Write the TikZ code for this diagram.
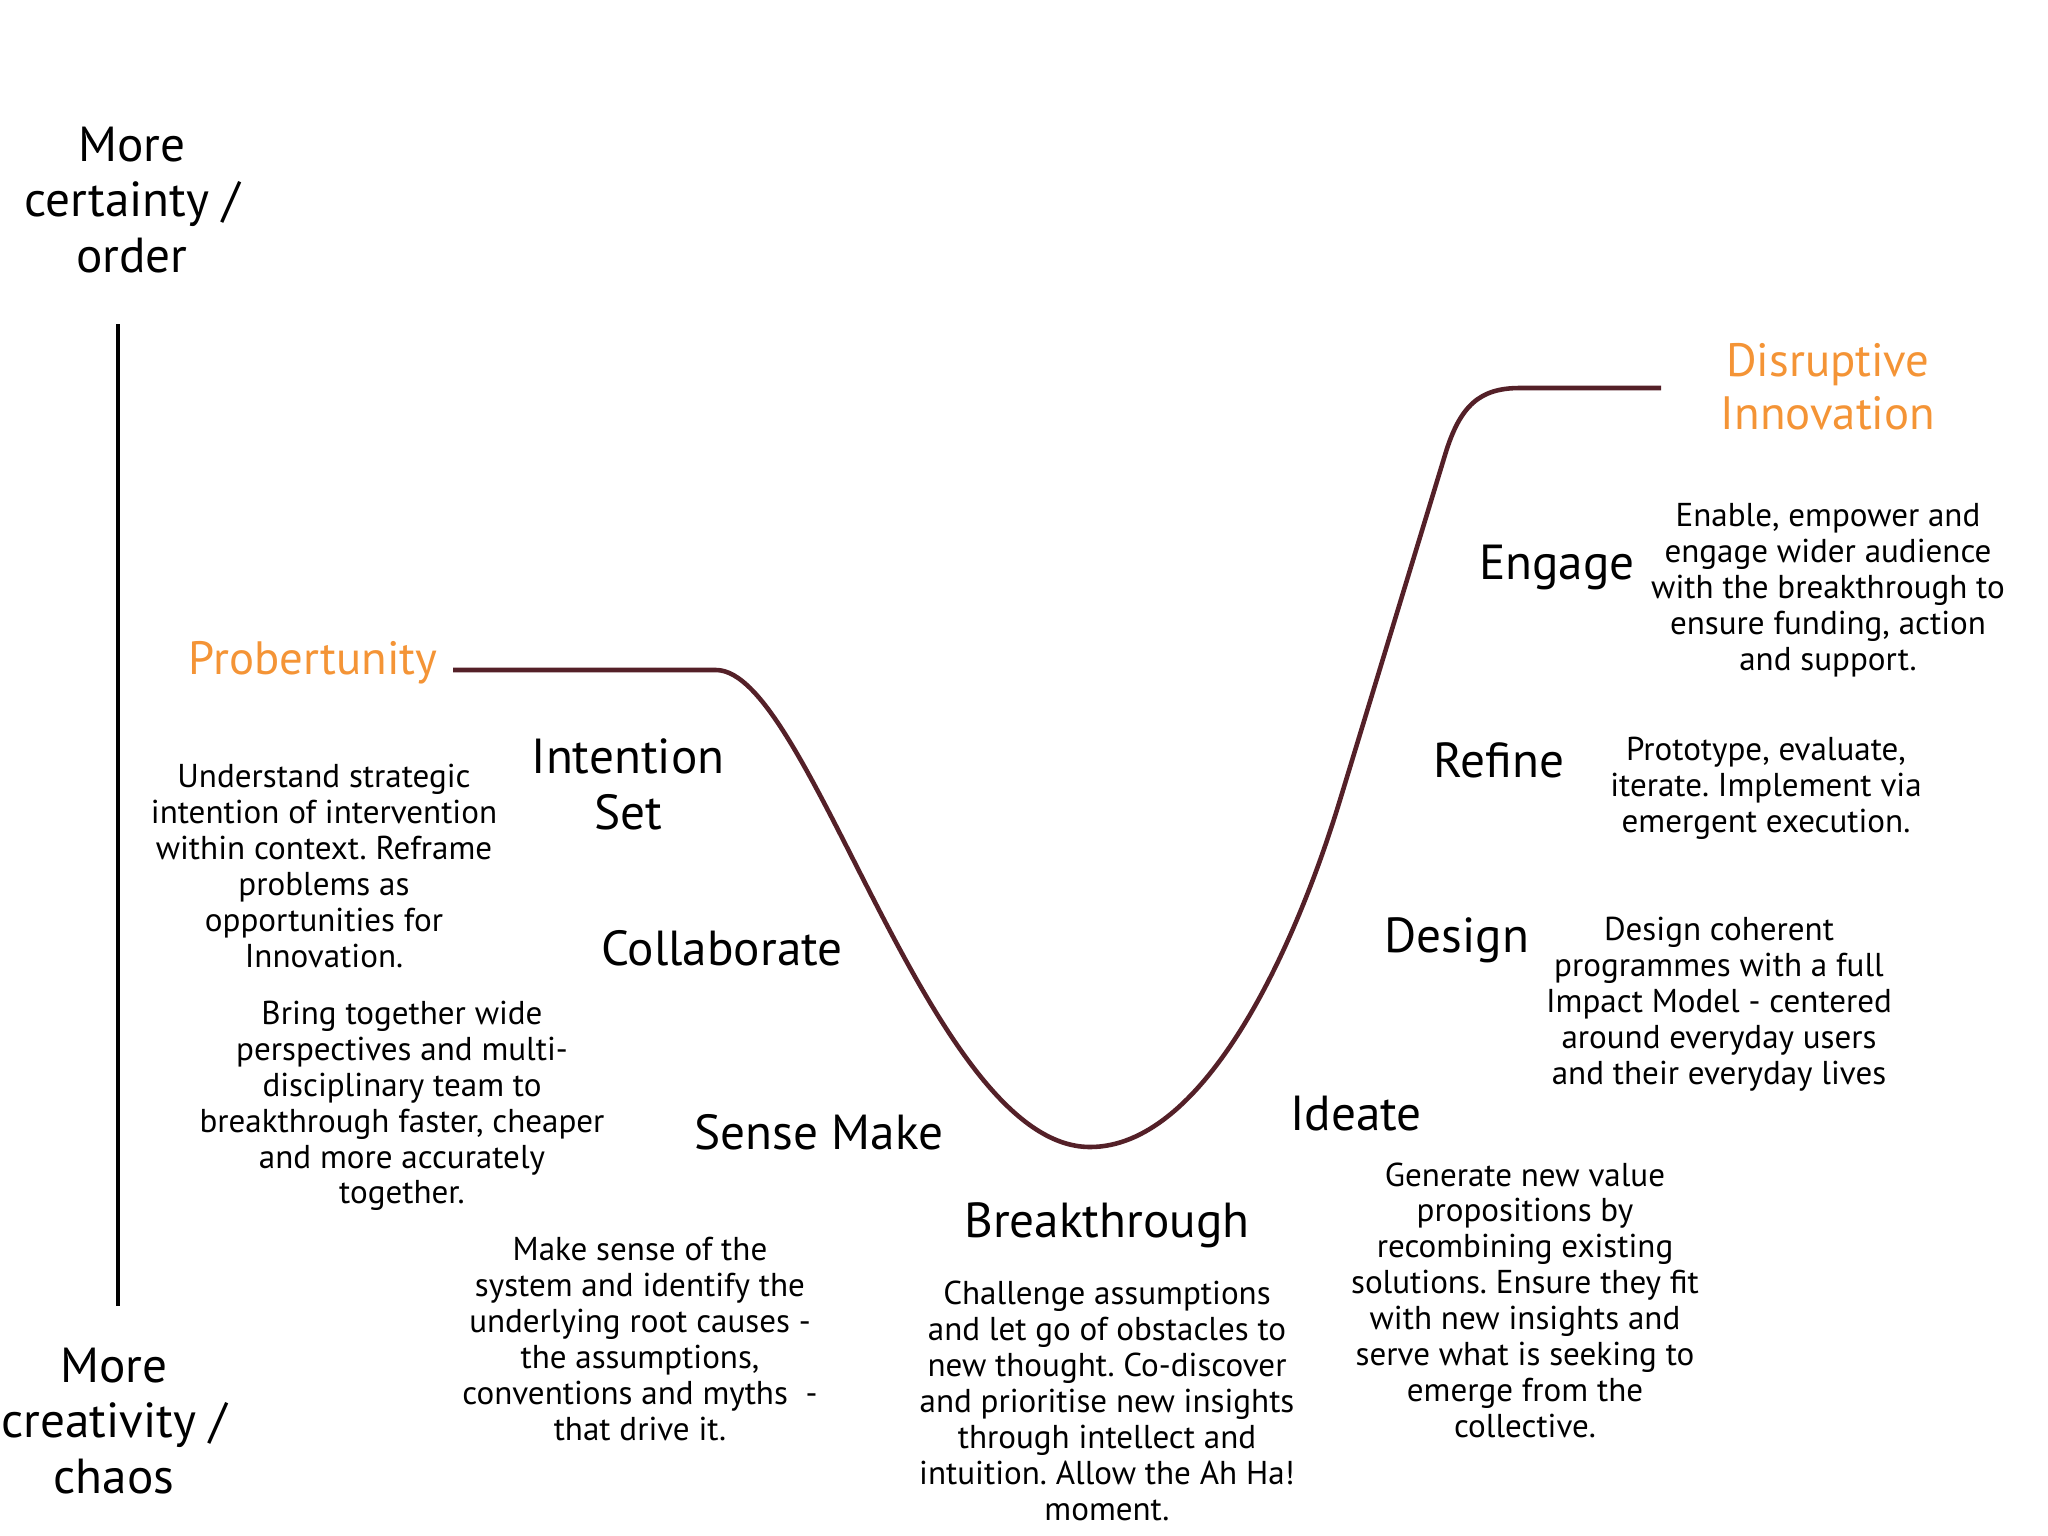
\documentclass[tikz,border=0pt]{standalone}
\usepackage{fontspec}
\setmainfont{PT Sans}
\frenchspacing
\definecolor{probeorange}{RGB}{244,148,54}
\definecolor{curvebrown}{RGB}{84,32,40}
\tikzset{
  stage/.style={font=\fontsize{14}{15.9}\selectfont, align=center, inner sep=0pt},
  blurb/.style={font=\fontsize{9.4}{10.2}\selectfont, align=center, inner sep=0pt},
  goal/.style={font=\fontsize{13.3}{15}\selectfont, text=probeorange, align=center, inner sep=0pt}
}
\begin{document}
\begin{tikzpicture}[x=0.01cm, y=-0.01cm]
\useasboundingbox (0,0) rectangle (2048,1536);

\draw[line width=1.3pt] (118,324) -- (118,1306);
\node[stage] (order) at (132,200) {More\\certainty /\\order};
\node[stage] (chaos) at (114,1421) {More\\creativity /\\chaos};

\draw[curvebrown, line width=1.3pt] (453,670) -- (716,670)
  .. controls (810,670) and (930,1147) .. (1090,1147)
  .. controls (1200,1147) and (1290,964) .. (1340,800) -- (1445,455)
  .. controls (1460,405) and (1480,388) .. (1520,388) -- (1661,388);

\node[goal] (probertunity) at (313,663) {Probertunity};
\node[goal] (disruptive) at (1828,387) {Disruptive\\Innovation};

\node[stage] (intention) at (628,784) {Intention\\Set};
\node[stage] (collaborate) at (722,948) {Collaborate};
\node[stage] (sensemake) at (819,1132) {Sense Make};
\node[stage] (breakthrough) at (1107,1225) {Breakthrough};
\node[stage] (ideate) at (1356,1114) {Ideate};
\node[stage] (design) at (1457,940) {Design};
\node[stage] (refine) at (1499,760) {Refine};
\node[stage] (engage) at (1557,567) {Engage};

\node[blurb] (intentiontext) at (324,866) {Understand strategic\\intention of intervention\\within context. Reframe\\problems as\\opportunities for\\Innovation.};
\node[blurb] (collaboratetext) at (402,1106) {Bring together wide\\perspectives and multi-\\disciplinary team to\\breakthrough faster, cheaper\\and more accurately\\together.};
\node[blurb] (sensemaketext) at (640,1339) {Make sense of the\\system and identify the\\underlying root causes -\\the assumptions,\\conventions and myths\ \ -\\that drive it.};
\node[blurb] (breakthroughtext) at (1107,1401) {Challenge assumptions\\and let go of obstacles to\\new thought. Co-discover\\and prioritise new insights\\through intellect and\\intuition. Allow the Ah Ha!\\moment.};
\node[blurb] (ideatetext) at (1525,1300) {Generate new value\\propositions by\\recombining existing\\solutions. Ensure they fit\\with new insights and\\serve what is seeking to\\emerge from the\\collective.};
\node[blurb] (designtext) at (1719,1004) {Design coherent\\programmes with a full\\Impact Model - centered\\around everyday users\\and their everyday lives};
\node[blurb] (refinetext) at (1766,788) {Prototype, evaluate,\\iterate. Implement via\\emergent execution.};
\node[blurb] (engagetext) at (1828,590) {Enable, empower and\\engage wider audience\\with the breakthrough to\\ensure funding, action\\and support.};

\end{tikzpicture}
\end{document}
